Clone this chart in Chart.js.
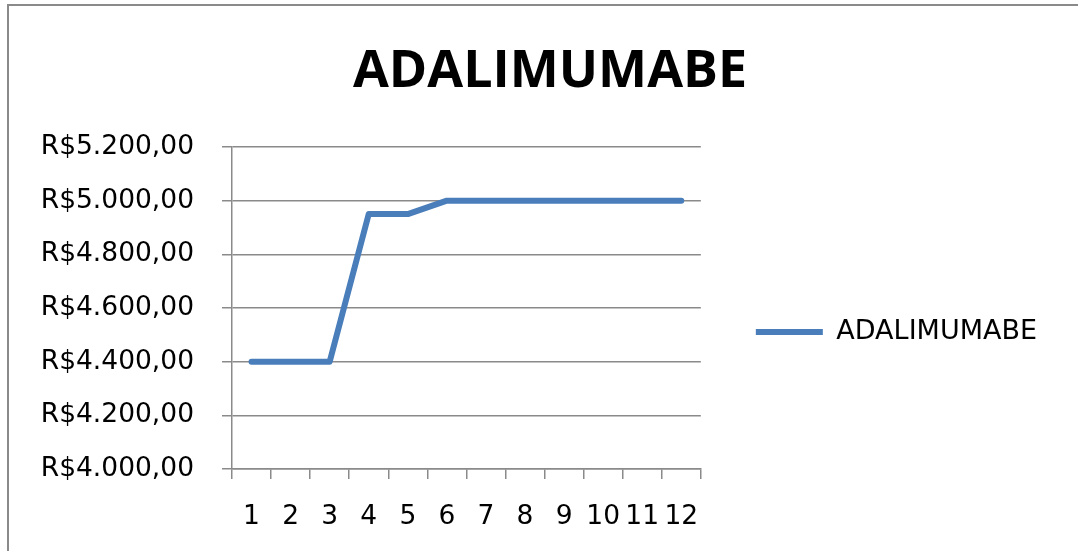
<!DOCTYPE html>
<html>
<head>
<meta charset="utf-8">
<script src="https://cdn.jsdelivr.net/npm/chart.js@4.4.1/dist/chart.umd.min.js"></script>
<style>
  html, body { margin: 0; padding: 0; background: #fff; }
  #wrap { position: relative; width: 1078px; height: 551px; overflow: hidden; }
  #frame { position: absolute; left: 7px; top: 4px; width: 1200px; height: 700px;
           border-left: 2px solid #8a8a8a; border-top: 2px solid #8a8a8a; }
  #chart { position: absolute; left: 0; top: 0; }
</style>
</head>
<body>
<div id="wrap">
  <div id="frame"></div>
  <canvas id="chart" width="1078" height="551"></canvas>
</div>
<script>
const months = ['1', '2', '3', '4', '5', '6', '7', '8', '9', '10', '11', '12'];
const prices = [4400, 4400, 4400, 4950, 4950, 5000, 5000, 5000, 5000, 5000, 5000, 5000];
const seriesName = 'ADALIMUMABE';
const yMin = 4000, yMax = 5200, yStep = 200;

const LINE_BLUE = '#4a7ebb';
const GRID_GRAY = '#8a8a8a';

// R$5.200,00 style
function brl(v) {
  const int = Math.round(v).toString().replace(/\B(?=(\d{3})+(?!\d))/g, '.');
  return 'R$' + int + ',00';
}

const tickFont = { family: '"DejaVu Sans", sans-serif', size: 26.5 };

// title sits centred over the whole frame, not over the area left of the legend
const centreTitle = {
  id: 'centreTitle',
  afterLayout(chart) {
    const t = chart.titleBlock;
    if (!t) return;
    const dx = chart.width / 2 + 11 - (t.left + t.right) / 2;
    t.left += dx;
    t.right += dx;
  }
};

new Chart(document.getElementById('chart'), {
  type: 'line',
  data: {
    labels: months,
    datasets: [{
      label: seriesName,
      data: prices,
      borderColor: LINE_BLUE,
      backgroundColor: LINE_BLUE,
      borderWidth: 6,
      borderCapStyle: 'round',
      borderJoinStyle: 'round',
      pointRadius: 0,
      pointStyle: 'line',
      tension: 0,
    }]
  },
  options: {
    responsive: false,
    animation: false,
    devicePixelRatio: 1,
    layout: { padding: { top: 0, left: 0, right: 31, bottom: 0 } },
    plugins: {
      tooltip: { enabled: false },
      title: {
        display: true,
        text: seriesName,
        color: '#000',
        font: { family: '"Open Sans", sans-serif', size: 52, weight: 'bold' },
        padding: { top: 41, bottom: 43.6 },
      },
      legend: {
        position: 'right',
        fullSize: false,
        maxWidth: 500,
        // empty title only pushes the entry down to sit level with the reference
        title: { display: true, text: '', font: { size: 10 }, padding: { top: 36, bottom: 0 } },
        labels: {
          usePointStyle: true,
          pointStyle: 'line',
          pointStyleWidth: 67,
          padding: 55,
          color: '#000',
          font: { family: tickFont.family, size: 27 },
        },
      },
    },
    scales: {
      x: {
        offset: true,
        afterFit: s => { s.height = 82; },
        grid: { offset: true, drawOnChartArea: false, drawTicks: true, tickLength: 10, color: GRID_GRAY, lineWidth: 1.5 },
        border: { color: GRID_GRAY, width: 1.5 },
        ticks: { color: '#000', font: tickFont, padding: 22, maxRotation: 0, autoSkip: false },
      },
      y: {
        min: yMin,
        max: yMax,
        afterFit: s => { s.width = 232; },
        grid: { drawTicks: true, tickLength: 10, color: GRID_GRAY, lineWidth: 1.5 },
        border: { color: GRID_GRAY, width: 1.5 },
        ticks: { stepSize: yStep, color: '#000', font: tickFont, padding: 28, callback: v => brl(v) },
      },
    },
  },
  plugins: [centreTitle],
});
</script>
</body>
</html>
